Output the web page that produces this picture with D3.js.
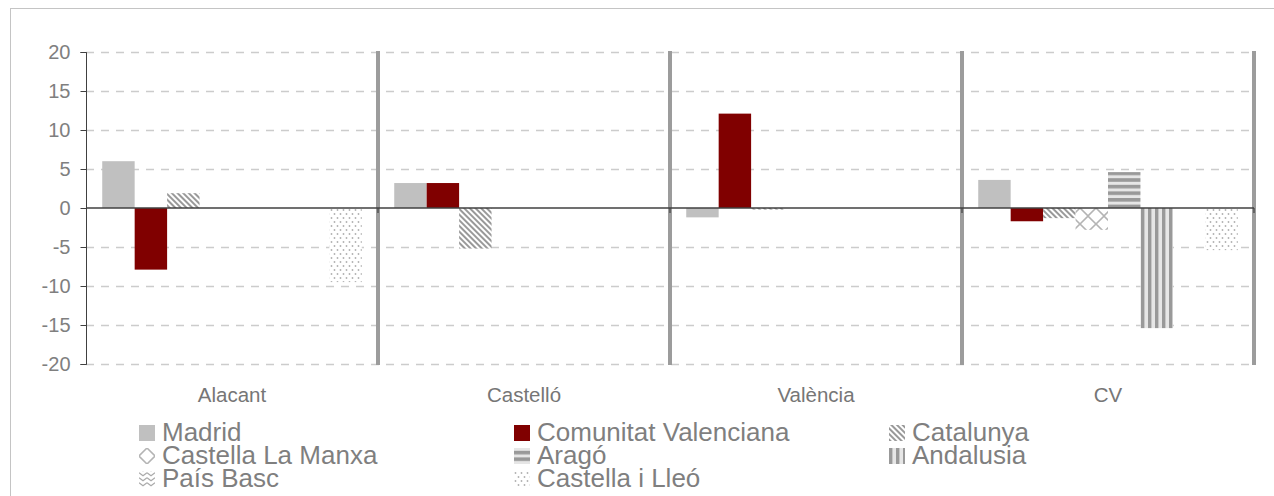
<html>
<head>
<meta charset="utf-8">
<title>Bar</title>
<style>
  body { margin: 0; background: #fff; }
  #bar { width: 1274px; height: 496px; }
  text { font-family: "Liberation Sans", Arial, sans-serif; }
</style>
</head>
<body>
<div id="bar"></div>
<script src="https://d3js.org/d3.v7.min.js"></script>
<script>
  const width = 1274;
  const height = 496;

  const categories = ['Alacant', 'Castelló', 'València', 'CV'];
  const seriesNames = ['Madrid', 'Comunitat Valenciana', 'Catalunya', 'Castella La Manxa',
    'Aragó', 'Andalusia', 'País Basc', 'Castella i Lleó'];
  const madrid = [6.0, 3.2, -1.2, 3.6];
  const comunitatValenciana = [-7.9, 3.2, 12.1, -1.7];
  const catalunya = [1.9, -5.2, -0.2, -1.3];
  const castellaLaManxa = [0, 0, 0, -2.8];
  const arago = [0, 0, 0, 4.6];
  const andalusia = [0, 0, 0, -15.4];
  const paisBasc = [0, 0, 0, 0];
  const castellaILleo = [-9.5, 0, 0, -5.4];
  const yTicks = [-20, -15, -10, -5, 0, 5, 10, 15, 20];

  const seriesValues = [madrid, comunitatValenciana, catalunya, castellaLaManxa,
    arago, andalusia, paisBasc, castellaILleo];

  const svg = d3.select('#bar')
    .append('svg')
    .attr('width', width)
    .attr('height', height);

  // patterns
  const defs = svg.append('defs');
  const diag = defs.append('pattern').attr('id', 'p-diag').attr('patternUnits', 'userSpaceOnUse')
    .attr('width', 4).attr('height', 4).attr('patternTransform', 'rotate(-45)');
  diag.append('rect').attr('width', 4).attr('height', 4).attr('fill', '#fff');
  diag.append('rect').attr('width', 2).attr('height', 4).attr('fill', '#999');

  const diamond = defs.append('pattern').attr('id', 'p-diamond').attr('patternUnits', 'userSpaceOnUse')
    .attr('width', 16).attr('height', 16).attr('x', 0).attr('y', 0);
  diamond.append('rect').attr('width', 16).attr('height', 16).attr('fill', '#fff');
  diamond.append('path').attr('d', 'M0,8 L8,0 L16,8 L8,16 Z')
    .attr('fill', 'none').attr('stroke', '#b4b4b4').attr('stroke-width', 1.6);

  const horiz = defs.append('pattern').attr('id', 'p-horiz').attr('patternUnits', 'userSpaceOnUse')
    .attr('width', 6.6).attr('height', 6.6);
  horiz.append('rect').attr('width', 6.6).attr('height', 6.6).attr('fill', '#e6e6e6');
  horiz.append('rect').attr('width', 6.6).attr('height', 3.6).attr('fill', '#999');

  const vert = defs.append('pattern').attr('id', 'p-vert').attr('patternUnits', 'userSpaceOnUse')
    .attr('width', 7).attr('height', 7);
  vert.append('rect').attr('width', 7).attr('height', 7).attr('fill', '#e6e6e6');
  vert.append('rect').attr('width', 3.4).attr('height', 7).attr('fill', '#999');

  const chevron = defs.append('pattern').attr('id', 'p-chevron').attr('patternUnits', 'userSpaceOnUse')
    .attr('width', 8).attr('height', 5);
  chevron.append('rect').attr('width', 8).attr('height', 5).attr('fill', '#fff');
  chevron.append('path').attr('d', 'M0,0.8 L4,3.8 L8,0.8')
    .attr('fill', 'none').attr('stroke', '#aaa').attr('stroke-width', 1.2);

  const dots = defs.append('pattern').attr('id', 'p-dots').attr('patternUnits', 'userSpaceOnUse')
    .attr('width', 6).attr('height', 8);
  dots.append('rect').attr('width', 6).attr('height', 8).attr('fill', '#fff');
  dots.append('circle').attr('cx', 1.5).attr('cy', 2).attr('r', 0.9).attr('fill', '#b0b0b0');
  dots.append('circle').attr('cx', 4.5).attr('cy', 6).attr('r', 0.9).attr('fill', '#b0b0b0');

  const fills = ['#c0c0c0', '#800000', 'url(#p-diag)', 'url(#p-diamond)',
    'url(#p-horiz)', 'url(#p-vert)', 'url(#p-chevron)', 'url(#p-dots)'];

  // outer frame
  svg.append('rect').attr('x', 10.5).attr('y', 8.5).attr('width', 1280).attr('height', 500)
    .attr('fill', 'none').attr('stroke', '#c4c4c4');

  // scales
  const xScale = d3.scaleBand().domain(categories).range([86, 1254]).padding(0);
  const inner = d3.scaleBand().domain(seriesNames).range([0, xScale.bandwidth()])
    .paddingInner(0).paddingOuter(0.5);
  const yScale = d3.scaleLinear().domain([-20, 20]).range([364, 52]);

  // grid
  svg.append('g').selectAll('line')
    .data(yTicks.filter(d => d !== 0))
    .join('line')
    .attr('x1', 86).attr('x2', 1250)
    .attr('y1', d => yScale(d) + 0.5).attr('y2', d => yScale(d) + 0.5)
    .attr('stroke', '#cccccc').attr('stroke-width', 1.3)
    .attr('stroke-dasharray', '8,7');

  // bars
  const barData = [];
  seriesNames.forEach((s, si) => {
    categories.forEach((c, ci) => {
      barData.push({ series: s, cat: c, value: seriesValues[si][ci], fill: fills[si] });
    });
  });
  svg.append('g').selectAll('rect')
    .data(barData)
    .join('rect')
    .attr('x', d => xScale(d.cat) + inner(d.series))
    .attr('width', inner.bandwidth())
    .attr('y', d => yScale(Math.max(0, d.value)))
    .attr('height', d => Math.abs(yScale(d.value) - yScale(0)))
    .attr('fill', d => d.fill);

  // separators
  svg.append('g').selectAll('line')
    .data(categories)
    .join('line')
    .attr('x1', d => xScale(d) + xScale.bandwidth())
    .attr('x2', d => xScale(d) + xScale.bandwidth())
    .attr('y1', 51).attr('y2', 365)
    .attr('stroke', '#9c9c9c').attr('stroke-width', 4);

  // zero line with category ticks
  svg.append('g').attr('transform', `translate(0, ${yScale(0)})`)
    .call(g => {
      g.append('line').attr('x1', 86).attr('x2', 1254).attr('y1', 0).attr('y2', 0)
        .attr('stroke', '#404040').attr('stroke-width', 1.5);
      g.selectAll('.sep').data(categories).join('line')
        .attr('x1', d => xScale(d) + xScale.bandwidth()).attr('x2', d => xScale(d) + xScale.bandwidth())
        .attr('y1', 0).attr('y2', 5).attr('stroke', '#404040').attr('stroke-width', 1.2);
    });

  // y axis
  const yAxis = d3.axisLeft(yScale).tickValues(yTicks).tickSize(6).tickPadding(10)
    .tickFormat(d => String(d));
  svg.append('g').attr('transform', 'translate(86.5, 0)').call(yAxis)
    .call(g => {
      g.select('.domain').attr('stroke', '#404040').attr('d', 'M-6,52.5H0V364.5H-6');
      g.selectAll('.tick line').attr('stroke', '#404040');
      g.selectAll('.tick text').attr('fill', '#7f7f7f').style('font-size', '20px')
        .style('font-family', '"Liberation Sans", Arial, sans-serif');
    });

  // x labels
  svg.append('g').selectAll('text')
    .data(categories)
    .join('text')
    .attr('x', d => xScale(d) + xScale.bandwidth() / 2)
    .attr('y', 402)
    .attr('text-anchor', 'middle')
    .attr('fill', '#767676')
    .style('font-size', '20.5px')
    .text(d => d);

  // legend
  const legendCols = [139, 514, 889];
  const legend = svg.append('g').selectAll('g')
    .data(seriesNames)
    .join('g')
    .attr('transform', (d, i) => `translate(${legendCols[i % 3]}, ${441 + Math.floor(i / 3) * 23})`);
  legend.append('rect')
    .attr('x', 0).attr('y', -16).attr('width', 16).attr('height', 16)
    .attr('fill', (d, i) => fills[i]);
  legend.append('text')
    .attr('x', 23).attr('y', 0)
    .attr('fill', '#7f7f7f')
    .style('font-size', '26px')
    .text(d => d);
</script>
</body>
</html>
